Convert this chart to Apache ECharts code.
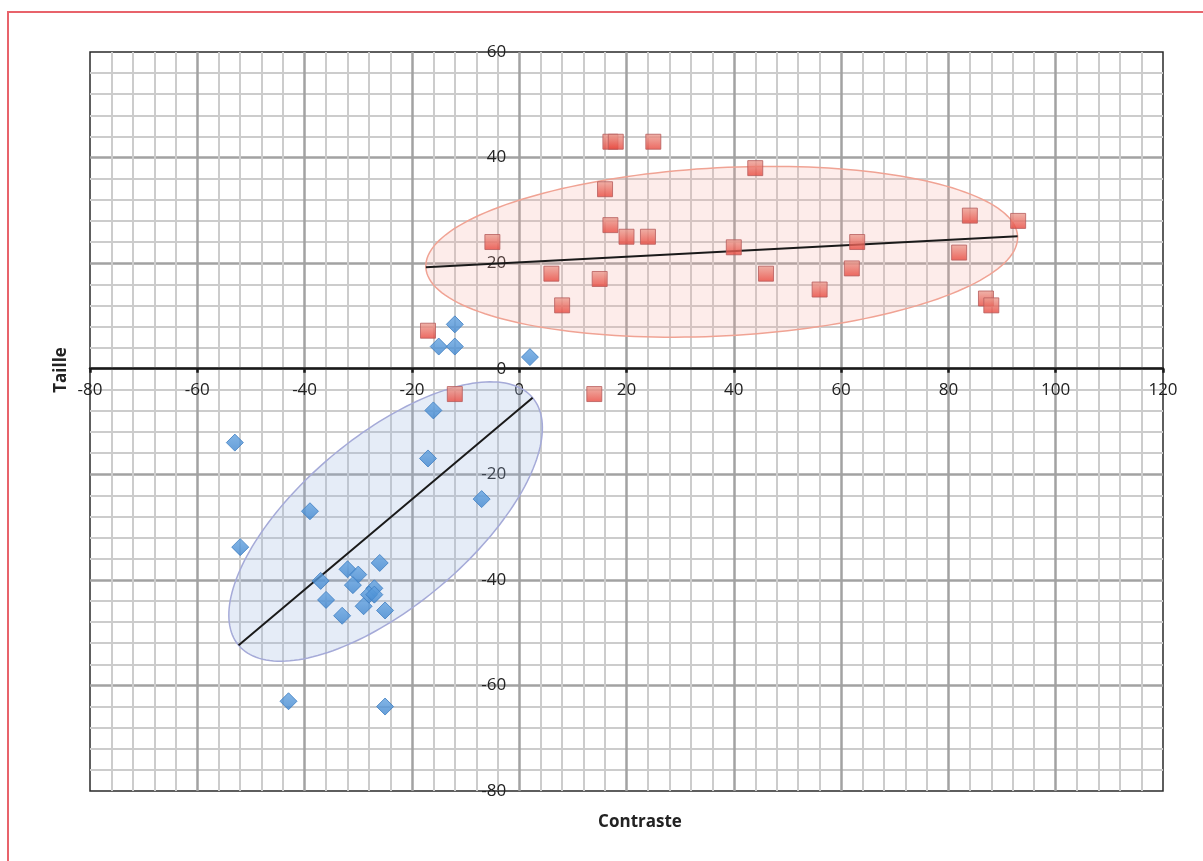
<!DOCTYPE html>
<html lang="fr">
<head>
<meta charset="utf-8">
<title>Taille / Contraste</title>
<script src="https://cdn.jsdelivr.net/npm/echarts@6/dist/echarts.min.js"></script>
<style>
  html, body { margin: 0; padding: 0; background: #fff; }
  #chart { width: 1203px; height: 861px; }
</style>
</head>
<body>
<div id="chart"></div>
<script>
  // axes
  const xRange = [-80, 120];
  const yRange = [-80, 60];
  const tickStep = 20;

  // losanges bleus
  const blueX = [-12, -15, -12, 2, -16, -53, -17, -7, -39, -52, -26, -32, -30, -37, -31, -27, -28, -27, -36, -29, -25, -33, -43, -25];
  const blueY = [8.4, 4.2, 4.2, 2.2, -7.9, -14, -17, -24.7, -27, -33.8, -36.8, -38, -39, -40.2, -41, -41.6, -42.8, -42.8, -43.8, -45, -45.8, -46.8, -63, -64];

  // carrés rouges
  const redX = [-17, -12, -5, 6, 8, 14, 15, 16, 17, 17, 18, 20, 24, 25, 40, 44, 46, 56, 62, 63, 82, 84, 87, 88, 93];
  const redY = [7.2, -4.8, 24, 18, 12, -4.8, 17, 34, 27.2, 43, 43, 25, 25, 43, 23, 38, 18, 15, 19, 24, 22, 29, 13.3, 12, 28];

  // droites de tendance [x1, y1, x2, y2] (aussi grand axe des ellipses)
  const blueTrend = [-52.3, -52.4, 2.5, -5.5];
  const redTrend = [-17.4, 19.2, 92.9, 25.1];
  // demi petit axe des ellipses (unités du graphique)
  const blueHalfWidth = 15.9;
  const redHalfWidth = 15.8;

  const chart = echarts.init(document.getElementById('chart'));

  const pairs = (xs, ys) => xs.map((x, i) => [x, ys[i]]);

  // ellipse tracée autour de la droite de tendance
  function ellipseSeries(trend, halfWidth, fill, stroke) {
    return {
      type: 'custom',
      silent: true,
      z: 1,
      data: [trend],
      encode: { x: [0, 2], y: [1, 3] },
      renderItem: function (params, api) {
        const p1 = api.coord([api.value(0), api.value(1)]);
        const p2 = api.coord([api.value(2), api.value(3)]);
        const s = api.size([halfWidth, halfWidth]);
        const b = (Math.abs(s[0]) + Math.abs(s[1])) / 2;
        const cx = (p1[0] + p2[0]) / 2;
        const cy = (p1[1] + p2[1]) / 2;
        const a = Math.hypot(p2[0] - p1[0], p2[1] - p1[1]) / 2;
        const ang = Math.atan2(p2[1] - p1[1], p2[0] - p1[0]);
        const pts = [];
        for (let i = 0; i < 180; i++) {
          const t = i / 180 * Math.PI * 2;
          const ex = a * Math.cos(t), ey = b * Math.sin(t);
          pts.push([
            cx + ex * Math.cos(ang) - ey * Math.sin(ang),
            cy + ex * Math.sin(ang) + ey * Math.cos(ang)
          ]);
        }
        return {
          type: 'polygon',
          shape: { points: pts },
          style: { fill: fill, stroke: stroke, lineWidth: 1.5 }
        };
      }
    };
  }

  function trendSeries(trend) {
    return {
      type: 'line',
      silent: true,
      z: 2,
      symbol: 'none',
      data: [[trend[0], trend[1]], [trend[2], trend[3]]],
      lineStyle: { color: '#1a1a1a', width: 2 }
    };
  }

  const labelFont = { fontFamily: 'Open Sans', fontSize: 17, color: '#222' };

  const option = {
    animation: false,
    backgroundColor: '#fff',
    grid: {
      left: 90, right: 40, top: 52, bottom: 70,
      show: true, borderColor: '#2a2a2a', borderWidth: 1.5
    },
    xAxis: {
      type: 'value',
      min: xRange[0], max: xRange[1], interval: tickStep,
      axisLine: { onZero: false, lineStyle: { color: '#1a1a1a', width: 2.5 } },
      axisTick: { show: true, length: 4, lineStyle: { color: '#1a1a1a', width: 2.5 } },
      axisLabel: Object.assign({ margin: 13 }, labelFont),
      splitLine: { show: true, showMinLine: false, showMaxLine: false, lineStyle: { color: '#a2a2a2', width: 2.5 } },
      minorTick: { show: false, splitNumber: 5 },
      minorSplitLine: { show: true, lineStyle: { color: '#cccccc', width: 2 } }
    },
    yAxis: {
      type: 'value',
      min: yRange[0], max: yRange[1], interval: tickStep,
      axisLine: { show: false, onZero: false },
      axisTick: { show: false },
      axisLabel: Object.assign({ margin: 13 }, labelFont),
      splitLine: { show: true, showMinLine: false, showMaxLine: false, lineStyle: { color: '#a2a2a2', width: 2.5 } },
      minorTick: { show: false, splitNumber: 5 },
      minorSplitLine: { show: true, lineStyle: { color: '#cccccc', width: 2 } }
    },
    graphic: [
      {
        type: 'rect', silent: true, z: 100,
        shape: { x: 8, y: 12, width: 1400, height: 1000 },
        style: { fill: 'none', stroke: '#e8636b', lineWidth: 2 }
      },
      {
        type: 'text', x: 640, y: 822, z: 100,
        style: { text: 'Contraste', fontFamily: 'Open Sans', fontSize: 17, fontWeight: 'bold', fill: '#222', align: 'center', verticalAlign: 'middle' }
      },
      {
        type: 'text', x: 61, y: 370, rotation: Math.PI / 2, z: 100,
        style: { text: 'Taille', fontFamily: 'Open Sans', fontSize: 17, fontWeight: 'bold', fill: '#222', align: 'center', verticalAlign: 'middle' }
      }
    ],
    series: [
      ellipseSeries(redTrend, redHalfWidth, 'rgba(244, 170, 160, 0.22)', '#f0a394'),
      ellipseSeries(blueTrend, blueHalfWidth, 'rgba(150, 180, 225, 0.25)', '#a5aad8'),
      trendSeries(redTrend),
      trendSeries(blueTrend),
      {
        type: 'scatter',
        z: 3,
        symbol: 'rect',
        symbolSize: 15,
        data: pairs(redX, redY),
        itemStyle: {
          color: new echarts.graphic.LinearGradient(0, 0, 0, 1, [
            { offset: 0, color: '#eba195' },
            { offset: 1, color: '#e8443a' }
          ]),
          borderColor: '#b65c5c',
          borderWidth: 1
        }
      },
      {
        type: 'scatter',
        z: 3,
        symbol: 'diamond',
        symbolSize: 17,
        data: pairs(blueX, blueY),
        itemStyle: {
          color: new echarts.graphic.LinearGradient(0, 0, 0, 1, [
            { offset: 0, color: '#64a3e0' },
            { offset: 1, color: '#3f86cf' }
          ]),
          borderColor: '#3d7dc0',
          borderWidth: 1
        }
      }
    ]
  };

  chart.setOption(option);

  // déplace les axes (ligne + étiquettes) sur les zéros, comme dans Excel
  const zero = chart.convertToPixel({ gridIndex: 0 }, [0, 0]);
  const corner = chart.convertToPixel({ gridIndex: 0 }, [xRange[0], yRange[0]]);
  chart.setOption({
    xAxis: { offset: zero[1] - corner[1] },
    yAxis: { offset: corner[0] - zero[0] }
  });
</script>
</body>
</html>
